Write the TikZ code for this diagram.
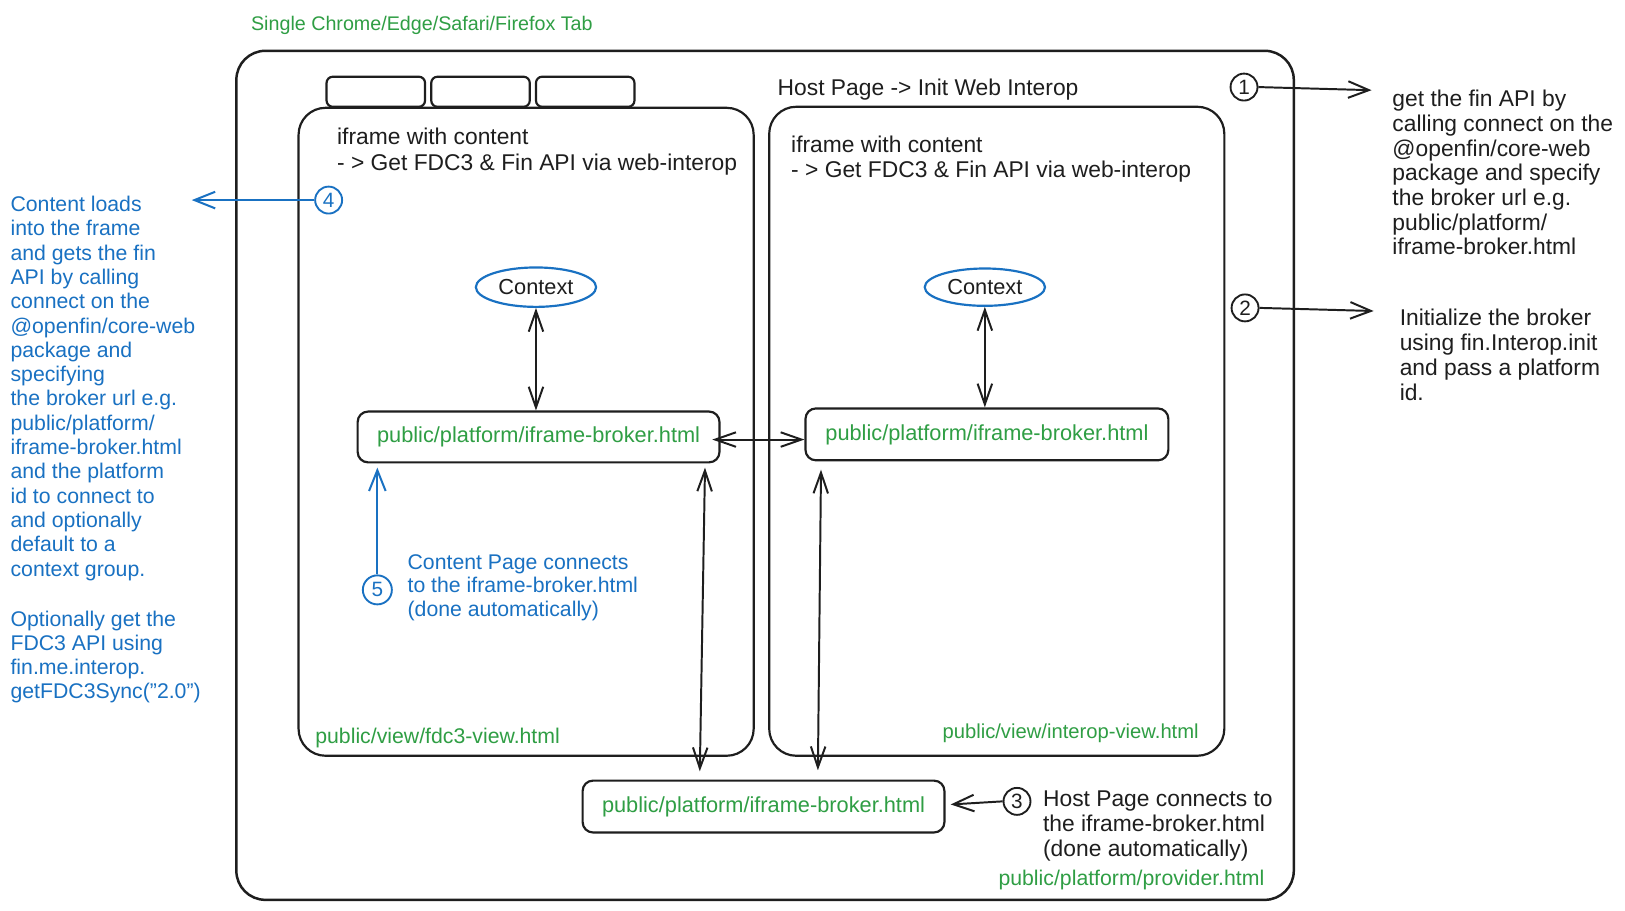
\documentclass[tikz,border=0pt]{standalone}
\usepackage{fontspec}
\setmainfont{Liberation Sans}
\usetikzlibrary{arrows.meta,shapes.geometric,calc}
\definecolor{ink}{HTML}{1E1E1E}
\definecolor{grn}{HTML}{2F9E44}
\definecolor{blu}{HTML}{1971C2}
\begin{document}
\begin{tikzpicture}[x=1pt,y=-1pt,
  box/.style={draw=ink,line width=2.1pt,inner sep=0pt,rounded corners=#1},
  box/.default=10pt,
  txt/.style={font=\fontsize{22}{24}\selectfont,inner sep=0pt,anchor=base west,text=ink,yshift=-2pt},
  btxt/.style={txt,font=\fontsize{20.5}{24}\selectfont,text=blu},
  gtxt/.style={txt,font=\fontsize{20.5}{24}\selectfont,text=grn},
  num/.style={circle,draw=ink,line width=1.8pt,minimum size=26pt,inner sep=0pt,font=\fontsize{20}{20}\selectfont,text=ink},
  bnum/.style={num,draw=blu,text=blu},
  ctx/.style={ellipse,draw=blu,line width=2.1pt,minimum width=116pt,minimum height=38pt,inner sep=0pt,font=\fontsize{21}{21}\selectfont,text=ink},
  arr/.style={draw=ink,line width=1.9pt,-{Straight Barb[length=20pt,width=16pt]}},
  darr/.style={draw=ink,line width=1.9pt,{Straight Barb[length=20pt,width=14pt]}-{Straight Barb[length=20pt,width=14pt]}},
  barr/.style={arr,draw=blu}]
\useasboundingbox[fill=white] (0,0) rectangle (1567.5,877.8);

% title
\node[gtxt,font=\fontsize{19}{22}\selectfont] (title) at (242,27) {Single Chrome/Edge/Safari/Firefox Tab};

% outer tab window
\node[box=28pt,line width=2.4pt,minimum width=1020pt,minimum height=819pt] (outer) at (738,458.5) {};
\node[box=6pt,minimum width=95pt,minimum height=29pt] (tab1) at (362.5,88.5) {};
\node[box=6pt,minimum width=95pt,minimum height=29pt] (tab2) at (463.5,88.5) {};
\node[box=6pt,minimum width=95pt,minimum height=29pt] (tab3) at (564.5,88.5) {};
\node[txt] (host) at (750,90) {Host Page -> Init Web Interop};

% iframes
\node[box=26pt,minimum width=439pt,minimum height=625pt] (lf) at (507.5,416.5) {};
\node[box=26pt,minimum width=439pt,minimum height=626pt] (rf) at (961.5,416) {};
\node[txt] (lf1) at (325,137) {iframe with content};
\node[txt] (lf2) at (325,162) {- > Get FDC3 \& Fin API via web-interop};
\node[txt] (rf1) at (763,145) {iframe with content};
\node[txt] (rf2) at (763,169) {- > Get FDC3 \& Fin API via web-interop};
\node[gtxt] (lv) at (304,715) {public/view/fdc3-view.html};
\node[gtxt,font=\fontsize{19.5}{24}\selectfont] (rv) at (909,710) {public/view/interop-view.html};

% contexts and brokers
\node[ctx] (ctx1) at (517,277) {Context};
\node[ctx,minimum height=36pt] (ctx2) at (950,277) {Context};
\node[box,minimum width=349pt,minimum height=49pt,font=\fontsize{21}{21}\selectfont,text=grn] (b1) at (519.5,421.5) {public/platform/iframe-broker.html};
\node[box,minimum width=350pt,minimum height=50pt,font=\fontsize{21}{21}\selectfont,text=grn] (b2) at (952,419) {public/platform/iframe-broker.html};
\node[box,minimum width=349pt,minimum height=50pt,font=\fontsize{21}{21}\selectfont,text=grn] (b3) at (736.5,778) {public/platform/iframe-broker.html};

\draw[darr] (ctx1.south) -- (ctx1.south |- b1.north);
\draw[darr] (ctx2.south) -- (ctx2.south |- b2.north);
\draw[darr] ($(b1.east)+(-8,2.5)$) -- ($(b2.west)+(0,5)$);
\draw[darr] ($(b1.south east)+(-15,4)$) -- ($(b1.south east |- b3.north)+(-20,-8)$);
\draw[darr] ($(b2.south west)+(16,8)$) -- ($(b2.south west |- b3.north)+(13,-9)$);

% numbered markers
\node[num] (n1) at (1200,84) {1};
\node[num] (n2) at (1201,297) {2};
\node[num] (n3) at (981,773) {3};
\node[bnum] (n4) at (317,193) {4};
\node[bnum,minimum size=28pt] (n5) at (364,569) {5};
\coordinate (e1) at (1323,87);
\coordinate (e2) at (1325,300);
\coordinate (e4) at (185,193);
\draw[arr] (n1.east) -- (e1);
\draw[arr] (n2.east) -- (e2);
\draw[barr] (n4.west) -- (e4);
\draw[barr] (n5.north) -- ($(n5.north |- b1.south)+(0,4)$);
\draw[arr] (n3.west) -- ($(b3.east)+(5,-2)$);

% right notes
\foreach \t [count=\i from 0] in {{get the fin API by},{calling connect on the},{@openfin/core-web},{package and specify},{the broker url e.g.},{public/platform/},{iframe-broker.html}}
  \node[txt] (ra\i) at (1343,{101+23.8*\i}) {\t};
\foreach \t [count=\i from 0] in {{Initialize the broker},{using fin.Interop.init},{and pass a platform},{id.}}
  \node[txt] (rb\i) at (1350,{312+24*\i}) {\t};

% left notes
\foreach \t [count=\i from 0] in {{Content loads},{into the frame},{and gets the fin},{API by calling},{connect on the},{@openfin/core-web},{package and},{specifying},{the broker url e.g.},{public/platform/},{iframe-broker.html},{and the platform},{id to connect to},{and optionally},{default to a},{context group.}}
  \node[btxt] (la\i) at (10,{202+23.45*\i}) {\t};
\foreach \t [count=\i from 0] in {{Optionally get the},{FDC3 API using},{fin.me.interop.},{getFDC3Sync("2.0")}}
  \node[btxt] (lb\i) at (10,{602+23.3*\i}) {\t};

% content page note
\foreach \t [count=\i from 0] in {{Content Page connects},{to the iframe-broker.html},{(done automatically)}}
  \node[btxt] (cp\i) at (393,{547+23*\i}) {\t};

% host page note
\foreach \t [count=\i from 0] in {{Host Page connects to},{the iframe-broker.html},{(done automatically)}}
  \node[txt] (hp\i) at (1006,{776+24*\i}) {\t};
\node[gtxt] (prov) at (963,852) {public/platform/provider.html};
\end{tikzpicture}
\end{document}
